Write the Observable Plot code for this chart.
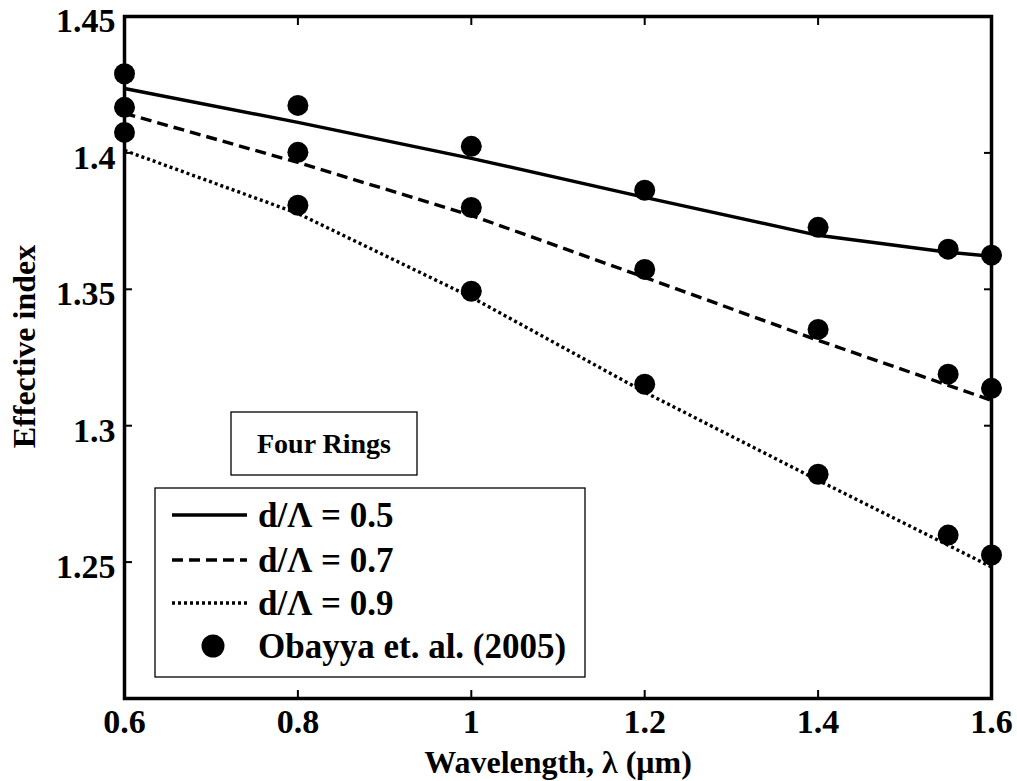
<!DOCTYPE html>
<html><head><meta charset="utf-8">
<script src="https://cdn.jsdelivr.net/npm/d3@7"></script>
<script src="https://cdn.jsdelivr.net/npm/@observablehq/plot@0.6"></script>
<style>body{margin:0;background:#fff}#chart{width:1017px;height:781px}</style>
</head><body><div id="chart"></div>
<script>
// ---- data ----
const wavelengths = [0.6, 0.8, 1.0, 1.2, 1.4, 1.55, 1.6];
const sim05 = [1.4236, 1.4112, 1.3980, 1.3837, 1.3698, 1.3636, 1.3621];
const sim07 = [1.4145, 1.3965, 1.3771, 1.3544, 1.3313, 1.3148, 1.3093];
const sim09 = [1.4009, 1.3778, 1.3471, 1.3123, 1.2800, 1.2562, 1.2482];
const obayya05 = [1.4290, 1.4174, 1.4024, 1.3863, 1.3727, 1.3647, 1.3625];
const obayya07 = [1.4167, 1.4002, 1.3800, 1.3573, 1.3353, 1.3189, 1.3137];
const obayya09 = [1.4075, 1.3808, 1.3493, 1.3152, 1.2822, 1.2599, 1.2526];
const seriesNames = ["d/Λ = 0.5", "d/Λ = 0.7", "d/Λ = 0.9"];
const refName = "Obayya et. al. (2005)";
const boxTitle = "Four Rings";
const xTicks = [0.6, 0.8, 1, 1.2, 1.4, 1.6];
const yTicks = [1.25, 1.3, 1.35, 1.4, 1.45];
const xTitle = "Wavelength, λ (μm)";
const yTitle = "Effective index";

const dashes = [null, "11,6", "3,3"];
const sims = [sim05, sim07, sim09];
const refs = [obayya05, obayya07, obayya09];
const lineData = sims.flatMap((s, i) => s.map((v, j) => ({x: wavelengths[j], y: v, series: seriesNames[i]})));
const dotData = refs.flatMap(s => s.map((v, j) => ({x: wavelengths[j], y: v})));

const FONT = "'Liberation Serif', 'Times New Roman', serif";

const plot = Plot.plot({
  width: 1017, height: 781,
  marginLeft: 124, marginRight: 26, marginTop: 16, marginBottom: 83,
  x: {domain: [0.6, 1.6]},
  y: {domain: [1.2, 1.45]},
  style: {fontFamily: FONT, fontWeight: "bold", color: "black", background: "white", overflow: "visible"},
  marks: [
    Plot.axisX(xTicks, {anchor: "bottom", tickSize: -8, tickPadding: 18, tickFormat: d => String(d), fontSize: 34, strokeWidth: 2, label: null}),
    Plot.axisX(xTicks, {anchor: "top", tickSize: -8, tickFormat: () => "", strokeWidth: 2, label: null}),
    Plot.axisY(yTicks, {anchor: "left", tickSize: -8, tickFormat: () => "", strokeWidth: 2, label: null}),
    Plot.axisY(yTicks, {anchor: "left", tickSize: 0, tickPadding: 9, dy: 5, tickFormat: d => String(d), fontSize: 34, label: null}),
    Plot.axisY(yTicks, {anchor: "right", tickSize: -8, tickFormat: () => "", strokeWidth: 2, label: null}),
    ...seriesNames.map((name, i) => Plot.line(lineData.filter(d => d.series === name), {
      x: "x", y: "y", stroke: "black", strokeWidth: 3.4, strokeDasharray: dashes[i], strokeLinecap: "butt"
    })),
    Plot.dot(dotData, {x: "x", y: "y", r: 10.5, fill: "black", stroke: "none"}),
    Plot.frame({stroke: "black", strokeWidth: 3.5}),
    Plot.text([xTitle], {frameAnchor: "bottom", textAnchor: "middle", lineAnchor: "middle", dy: 64, fontSize: 32, fontWeight: "bold"}),
    Plot.text([yTitle], {frameAnchor: "left", textAnchor: "middle", rotate: -90, dx: -100, dy: -11, fontSize: 32, fontWeight: "bold"})
  ]
});

// ---- legend & annotation box ----
const svg = d3.select(plot);
const g = svg.append("g").attr("font-family", FONT).attr("font-weight", "bold").attr("fill", "black");
g.append("rect").attr("x", 231).attr("y", 412).attr("width", 186).attr("height", 63)
  .attr("fill", "white").attr("stroke", "black").attr("stroke-width", 1.3);
g.append("text").attr("x", 324).attr("y", 443).attr("text-anchor", "middle").attr("dominant-baseline", "central")
  .attr("font-size", 28).text(boxTitle);
g.append("rect").attr("x", 155).attr("y", 488).attr("width", 430).attr("height", 189)
  .attr("fill", "white").attr("stroke", "black").attr("stroke-width", 1.3);
const rowY = [515, 560, 603, 646];
seriesNames.forEach((name, i) => {
  g.append("line").attr("x1", 172).attr("x2", 247).attr("y1", rowY[i]).attr("y2", rowY[i])
    .attr("stroke", "black").attr("stroke-width", 3.4).attr("stroke-dasharray", dashes[i]);
  g.append("text").attr("x", 258).attr("y", rowY[i]).attr("text-anchor", "start").attr("dominant-baseline", "central")
    .attr("font-size", 35).text(name);
});
g.append("circle").attr("cx", 213).attr("cy", rowY[3]).attr("r", 11.5).attr("fill", "black");
g.append("text").attr("x", 258).attr("y", rowY[3]).attr("text-anchor", "start").attr("dominant-baseline", "central")
  .attr("font-size", 35).text(refName);

document.getElementById("chart").append(plot);
</script>
</body></html>
